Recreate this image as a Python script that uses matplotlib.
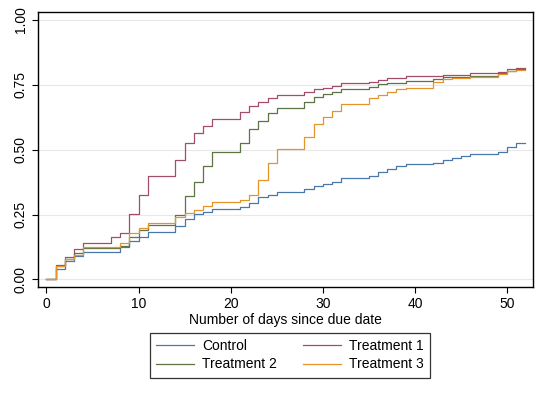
import matplotlib.pyplot as plt

plt.rcParams['font.family'] = ['Liberation Sans', 'DejaVu Sans']

# Kaplan-Meier failure estimates, one value per day (0..52)
days = list(range(53))
control = [0, 0.04, 0.072, 0.09, 0.105, 0.105, 0.105, 0.105, 0.124, 0.15,
           0.165, 0.184, 0.184, 0.184, 0.206, 0.232, 0.252, 0.261, 0.272, 0.272,
           0.272, 0.281, 0.296, 0.317, 0.326, 0.336, 0.336, 0.336, 0.348, 0.36,
           0.368, 0.374, 0.392, 0.392, 0.392, 0.399, 0.415, 0.426, 0.439, 0.445,
           0.445, 0.445, 0.45, 0.46, 0.469, 0.477, 0.484, 0.484, 0.484, 0.493,
           0.512, 0.527, 0.527]
treat1 = [0, 0.056, 0.085, 0.116, 0.139, 0.139, 0.139, 0.165, 0.178, 0.252,
          0.324, 0.40, 0.40, 0.40, 0.46, 0.527, 0.563, 0.593, 0.618, 0.618,
          0.618, 0.644, 0.67, 0.685, 0.698, 0.711, 0.711, 0.711, 0.721, 0.733,
          0.739, 0.745, 0.756, 0.756, 0.756, 0.762, 0.769, 0.775, 0.775, 0.784,
          0.784, 0.784, 0.784, 0.788, 0.788, 0.788, 0.795, 0.795, 0.795, 0.80,
          0.81, 0.814, 0.814]
treat2 = [0, 0.05, 0.078, 0.103, 0.12, 0.12, 0.12, 0.12, 0.13, 0.165,
          0.19, 0.21, 0.21, 0.21, 0.25, 0.322, 0.377, 0.439, 0.49, 0.49,
          0.49, 0.525, 0.579, 0.612, 0.64, 0.662, 0.662, 0.662, 0.683, 0.704,
          0.715, 0.722, 0.733, 0.733, 0.733, 0.743, 0.752, 0.758, 0.758, 0.766,
          0.766, 0.766, 0.773, 0.779, 0.779, 0.779, 0.785, 0.785, 0.785, 0.795,
          0.803, 0.81, 0.81]
treat3 = [0, 0.05, 0.078, 0.095, 0.126, 0.126, 0.126, 0.126, 0.14, 0.178,
          0.197, 0.217, 0.217, 0.217, 0.242, 0.255, 0.268, 0.285, 0.30, 0.30,
          0.30, 0.306, 0.326, 0.383, 0.45, 0.502, 0.502, 0.502, 0.551, 0.598,
          0.627, 0.649, 0.675, 0.675, 0.675, 0.698, 0.711, 0.724, 0.733, 0.739,
          0.739, 0.739, 0.762, 0.771, 0.775, 0.775, 0.781, 0.781, 0.781, 0.792,
          0.803, 0.807, 0.807]

series = [('Control', control, '#4a78a8'),
          ('Treatment 1', treat1, '#a24d6b'),
          ('Treatment 2', treat2, '#5e7444'),
          ('Treatment 3', treat3, '#e3952b')]

fig = plt.figure(figsize=(5.42, 3.94), dpi=100)
ax = fig.add_axes([0.0701, 0.2716, 0.9133, 0.6979])

lines = {}
for name, vals, col in series:
    lines[name], = ax.step(days, vals, where='post', color=col, lw=0.9, label=name)

ax.set_xlim(-0.92, 52.82)
ax.set_ylim(-0.029, 1.031)
ax.set_xticks([0, 10, 20, 30, 40, 50])
ax.set_yticks([0, 0.25, 0.5, 0.75, 1.0])
ax.set_yticklabels(['0.00', '0.25', '0.50', '0.75', '1.00'], rotation=90, va='center')
ax.yaxis.grid(True, color='#e8e8e8', lw=0.8)
ax.set_axisbelow(True)
ax.tick_params(labelsize=10, length=4, width=0.8, color='black')
for s in ax.spines.values():
    s.set_linewidth(1.0)
ax.set_xlabel('Number of days since due date', fontsize=10, labelpad=1)

# row-wise order like Stata: Control, Treatment 1 / Treatment 2, Treatment 3
order = ['Control', 'Treatment 2', 'Treatment 1', 'Treatment 3']
leg = fig.legend([lines[n] for n in order], order,
                 loc='upper center', bbox_to_anchor=(290 / 542, 1 - 333 / 394),
                 borderaxespad=0, ncol=2, fontsize=10, frameon=True, fancybox=False,
                 edgecolor='black', handlelength=2.7, columnspacing=1.9,
                 handletextpad=0.6, labelspacing=0.3, borderpad=0.45)
leg.get_frame().set_linewidth(0.9)

fig.savefig('out.png', dpi=100)
